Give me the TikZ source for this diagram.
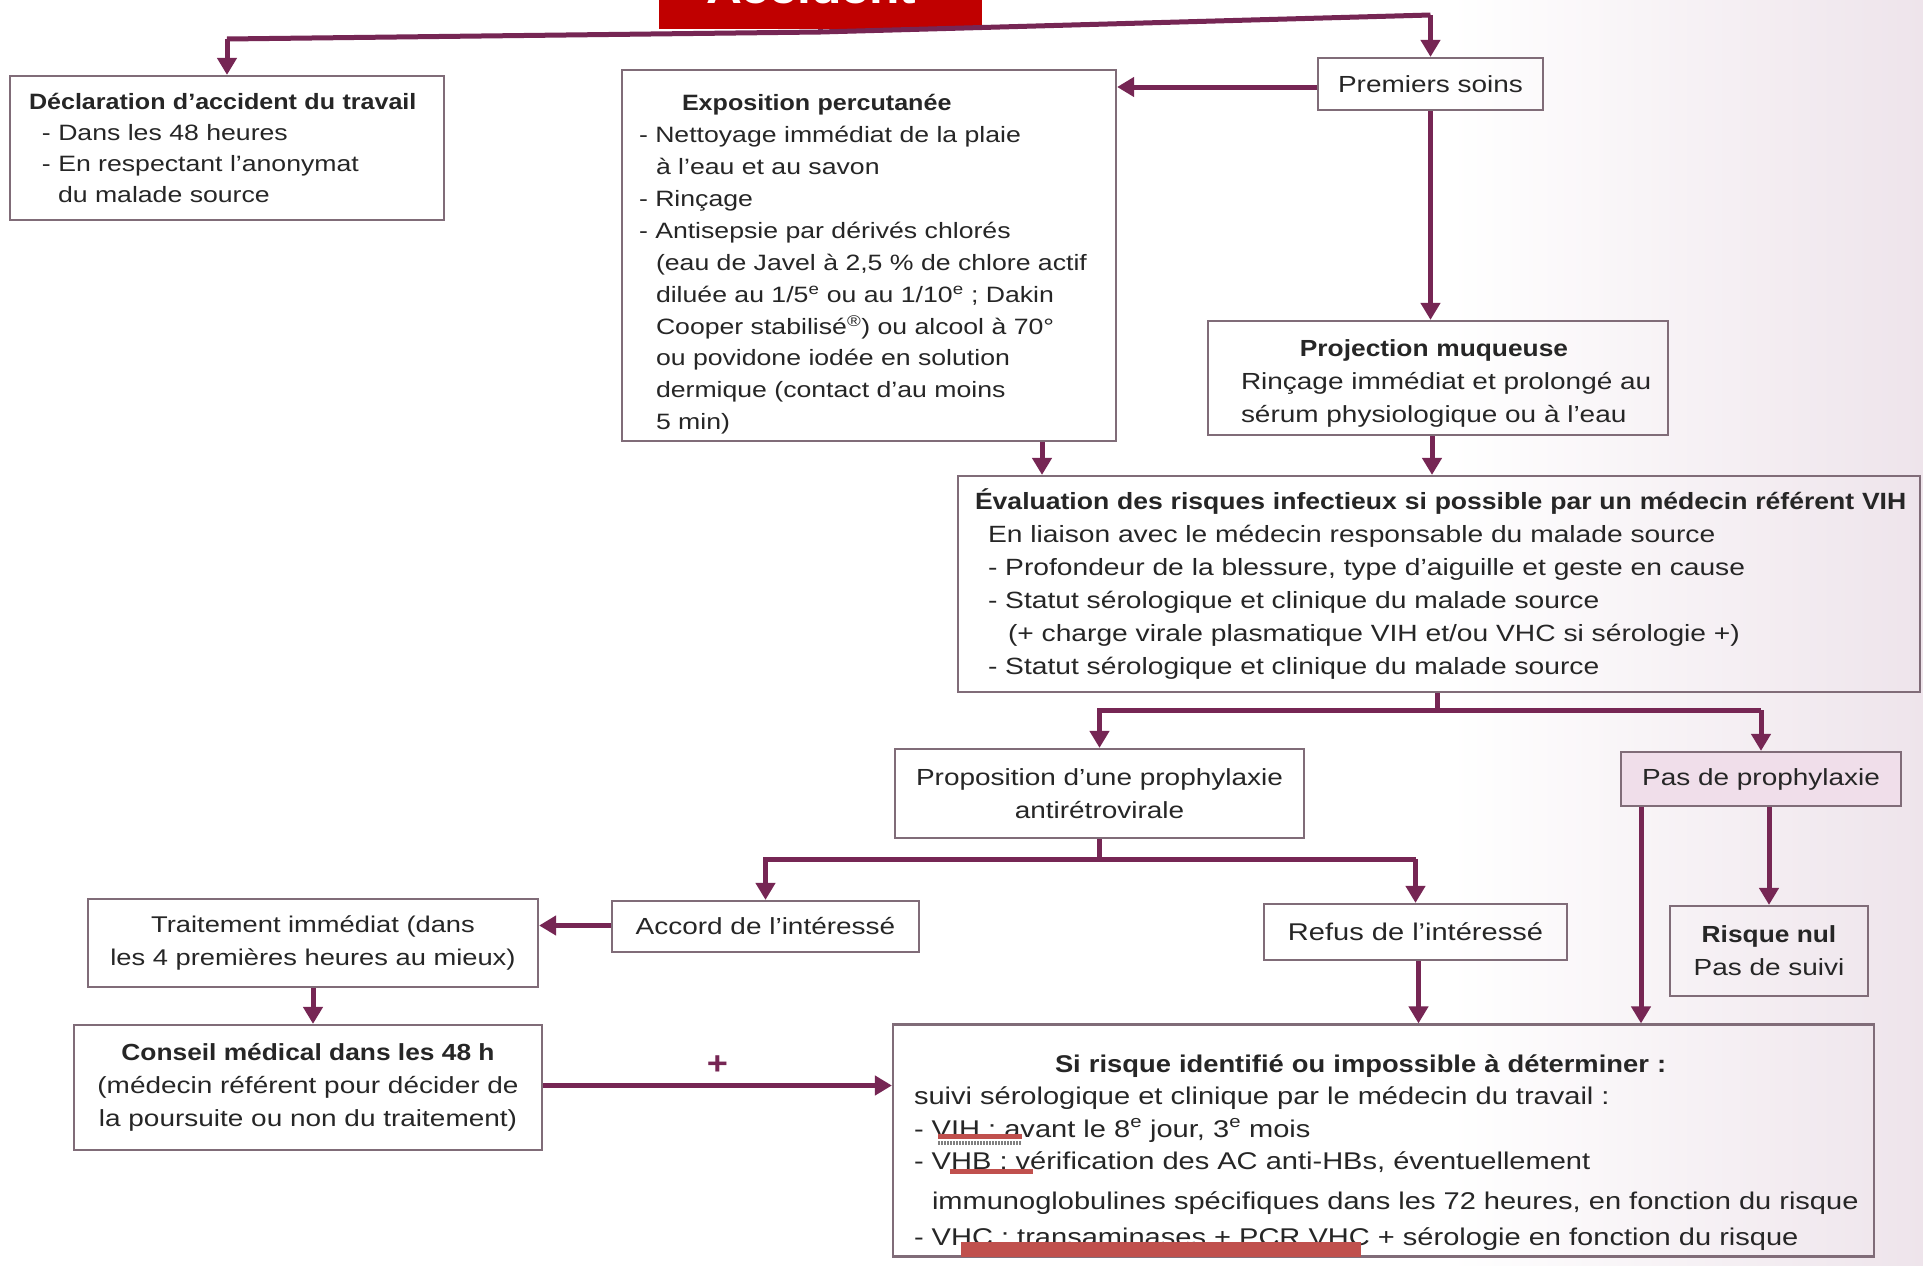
\documentclass[tikz,border=0pt]{standalone}
\usepackage{fontspec}
\setmainfont{Liberation Sans}[UprightFeatures={FakeStretch=1.2},BoldFeatures={FakeStretch=1.13}]
\usetikzlibrary{arrows.meta}
\definecolor{arrc}{RGB}{118,38,84}
\definecolor{boxc}{RGB}{128,108,120}
\definecolor{txt}{RGB}{38,38,38}
\definecolor{redbox}{RGB}{192,0,0}
\definecolor{redbar}{RGB}{192,80,77}
\definecolor{pinkfill}{RGB}{240,222,234}
\definecolor{shadec}{RGB}{238,228,235}
\newcommand{\fsz}[2]{\fontsize{#1}{#2}\selectfont}
\begin{document}
\begin{tikzpicture}[x=1pt,y=-1pt,
  box/.style={draw=boxc,line width=2.2pt,text=txt,inner ysep=0pt,anchor=center},
  conn/.style={draw=arrc,line width=5pt},
  arr/.style={conn,-{Triangle[width=19pt,length=17pt]}}]
\useasboundingbox (0,0) rectangle (1923,1266);
\clip (0,0) rectangle (1923,1266);
\fill[white] (0,0) rectangle (1923,1266);
\shade[left color=white,right color=shadec] (1450,0) rectangle (1923,1266);

% red title box (cut by the page edge)
\node[fill=redbox,minimum width=323pt,minimum height=80pt,inner sep=0pt] (acc) at (820.5,-11) {};
\node[text=white,font=\bfseries\fsz{44}{44},anchor=base,inner sep=0pt] (acct) at (811,3) {Accident};

% boxes
\node[box,minimum width=434pt,minimum height=144pt,text width=396pt,inner xsep=19pt,align=left,font=\fsz{22.2}{31}] (decl) at (227,148)
 {\mbox{\bfseries Déclaration d’accident du travail}\\
  \hspace*{13pt}- Dans les 48 heures\\
  \hspace*{13pt}- En respectant l’anonymat\\
  \hspace*{29pt}du malade source};

\node[box,minimum width=494pt,minimum height=371pt,text width=460pt,inner xsep=17pt,align=left,font=\fsz{22.2}{31.9}] (expo) at (869,255.5)
 {\rule{0pt}{34pt}\hspace*{43pt}\textbf{Exposition percutanée}\\
  - Nettoyage immédiat de la plaie\\
  \hspace*{17pt}à l’eau et au savon\\
  - Rinçage\\
  - Antisepsie par dérivés chlorés\\
  \hspace*{17pt}\mbox{(eau de Javel à 2,5~\% de chlore actif}\\
  \hspace*{17pt}diluée au 1/5\textsuperscript{e} ou au 1/10\textsuperscript{e} ; Dakin\\
  \hspace*{17pt}Cooper stabilisé\textsuperscript{®}) ou alcool à 70°\\
  \hspace*{17pt}ou povidone iodée en solution\\
  \hspace*{17pt}dermique (contact d’au moins\\
  \hspace*{17pt}5~min)};

\node[box,minimum width=225pt,minimum height=52pt,align=center,font=\fsz{23.3}{33}] (prem) at (1430.5,84) {Premiers soins};

\node[box,minimum width=460pt,minimum height=114pt,text width=428pt,inner xsep=16pt,align=left,font=\fsz{23.3}{33}] (proj) at (1438,378)
 {\rule{0pt}{27pt}\makebox[420pt][c]{\bfseries Projection muqueuse}\\
  \hspace*{17pt}\mbox{Rinçage immédiat et prolongé au}\\
  \hspace*{17pt}sérum physiologique ou à l’eau};

\node[box,minimum width=962pt,minimum height=216pt,text width=928pt,inner xsep=17pt,align=left,font=\fsz{23.5}{33}] (eval) at (1439,584)
 {\mbox{\bfseries Évaluation des risques infectieux si possible par un médecin référent VIH}\\
  \hspace*{13pt}En liaison avec le médecin responsable du malade source\\
  \hspace*{13pt}- Profondeur de la blessure, type d’aiguille et geste en cause\\
  \hspace*{13pt}- Statut sérologique et clinique du malade source\\
  \hspace*{33pt}(+ charge virale plasmatique VIH et/ou VHC si sérologie +)\\
  \hspace*{13pt}- Statut sérologique et clinique du malade source};

\node[box,minimum width=409pt,minimum height=89pt,align=center,font=\fsz{23.3}{33}] (prop) at (1099.5,793.5)
 {Proposition d’une prophylaxie\\antirétrovirale};

\node[box,fill=pinkfill,minimum width=280pt,minimum height=54pt,align=center,font=\fsz{23.3}{33}] (pasp) at (1761,779) {Pas de prophylaxie};

\node[box,minimum width=307pt,minimum height=51pt,align=center,font=\fsz{23.3}{33}] (accord) at (765.5,926.5) {Accord de l’intéressé};

\node[box,minimum width=303pt,minimum height=56pt,align=center,font=\fsz{24.2}{33}] (refus) at (1415.5,932) {Refus de l’intéressé};

\node[box,minimum width=198pt,minimum height=90pt,align=center,font=\fsz{23.3}{33}] (risknul) at (1769,951)
 {\textbf{Risque nul}\\Pas de suivi};

\node[box,minimum width=450pt,minimum height=88pt,align=center,font=\fsz{22.75}{33}] (trait) at (313,943)
 {Traitement immédiat (dans\\les 4 premières heures au mieux)};

\node[box,minimum width=468pt,minimum height=125pt,align=center,font=\fsz{23.3}{33}] (conseil) at (308,1087.5)
 {\textbf{Conseil médical dans les 48 h}\\(médecin référent pour décider de\\la poursuite ou non du traitement)};

\node[box,minimum width=981pt,minimum height=232pt,text width=939pt,inner xsep=21pt,align=left,font=\fsz{24.2}{32.5}] (risque) at (1383.5,1140.5)
 {\rule{0pt}{41pt}\hspace*{141pt}\mbox{\bfseries Si risque identifié ou impossible à déterminer :}\\
  suivi sérologique et clinique par le médecin du travail :\\
  - VIH : avant le 8\textsuperscript{e} jour, 3\textsuperscript{e} mois\\
  - VHB : vérification des AC anti-HBs, éventuellement\\[7.5pt]
  \hspace*{18pt}\mbox{immunoglobulines spécifiques dans les 72 heures, en fonction du risque}\\[3pt]
  \mbox{- VHC : transaminases + PCR VHC + sérologie en fonction du risque}};

% connectors
\coordinate (tl) at (227,39);
\coordinate (jn) at (820.5,32);
\coordinate (tr) at (1430.5,15);
\draw[conn,line join=round] (tl) -- (jn) -- (tr);
\draw[conn] (acc.south) -- (jn);
\draw[arr] (tl) -- (decl.north);
\draw[arr] (tr) -- (prem.north);
\draw[arr] ([yshift=-3pt]prem.west) -- ([yshift=-3pt]prem.west -| expo.east);
\draw[arr] (prem.south) -- (prem.south |- proj.north);
\draw[arr] ([xshift=173pt]expo.south) -- ([xshift=173pt]expo.south |- eval.north);
\draw[arr] ([xshift=-6pt]proj.south) -- ([xshift=-6pt]proj.south |- eval.north);

\draw[conn] ([xshift=-2pt]eval.south) -- ++(0,17) coordinate (j1);
\draw[arr] (j1 -| pasp.north) -- (j1 -| prop.north) -- (prop.north);
\draw[arr] (j1 -| pasp.north) -- (pasp.north);

\draw[conn] (prop.south) -- ++(0,20) coordinate (j2);
\draw[arr] (j2 -| refus.north) -- (j2 -| accord.north) -- (accord.north);
\draw[arr] (j2 -| refus.north) -- (refus.north);

\draw[arr] ([yshift=1pt]accord.west) -- ([yshift=1pt]accord.west -| trait.east);
\draw[arr] (trait.south) -- (trait.south |- conseil.north);
\draw[arr] ([yshift=2pt]conseil.east) -- ([yshift=2pt]conseil.east -| risque.west)
  node[midway,above=9pt,text=arrc,font=\bfseries\fsz{32}{32},inner sep=0pt] (plus) {+};
\draw[arr] ([xshift=3pt]refus.south) -- ([xshift=3pt]refus.south |- risque.north);
\draw[arr] ([xshift=-120pt]pasp.south) -- ([xshift=-120pt]pasp.south |- risque.north);
\draw[arr] (risknul.north |- pasp.south) -- (risknul.north);

% red annotation bars
\fill[redbar] (938,1134) rectangle (1022,1139);
\draw[gray,line width=4pt,dash pattern=on 1.5pt off 1.5pt] (938,1142.5) -- (1022,1142.5);
\fill[redbar] (950,1169) rectangle (1033,1174);
\fill[redbar] (961,1242) rectangle (1361,1257);
\end{tikzpicture}
\end{document}
